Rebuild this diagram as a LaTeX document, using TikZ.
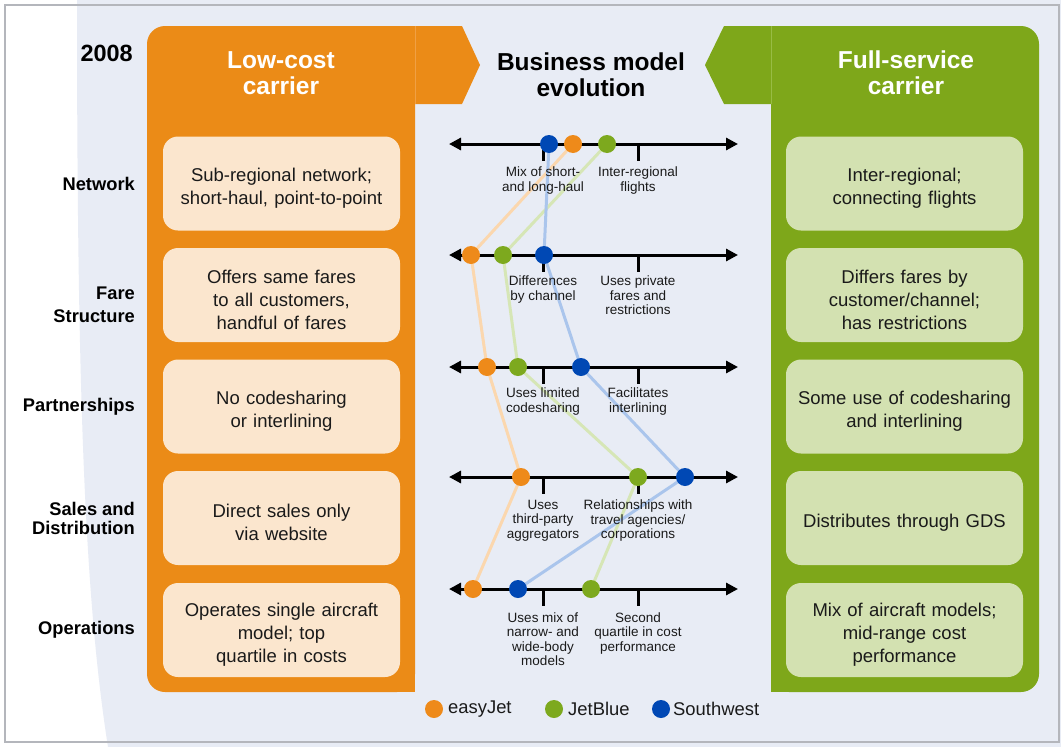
\documentclass[tikz,border=0pt]{standalone}
\usepackage{fontspec}
\setmainfont{Liberation Sans}
\usetikzlibrary{arrows.meta}
\definecolor{bgblue}{HTML}{E8ECF5}
\definecolor{lcorange}{HTML}{EB8B17}
\definecolor{lcsep}{HTML}{F0A044}
\definecolor{lcboxc}{HTML}{FBE6CE}
\definecolor{fsgreen}{HTML}{7EA71A}
\definecolor{fssep}{HTML}{98BC44}
\definecolor{fsboxc}{HTML}{D3E1B1}
\definecolor{dotorange}{HTML}{EE8A1A}
\definecolor{dotgreen}{HTML}{7DA91E}
\definecolor{dotblue}{HTML}{0048B4}
\definecolor{lnorange}{HTML}{FBD7AE}
\definecolor{lngreen}{HTML}{D6E6B6}
\definecolor{lnblue}{HTML}{AAC5EC}
\definecolor{framec}{HTML}{B4B6BC}
\definecolor{txt}{HTML}{1A1A1A}
\tikzset{
  infobox/.style={rounded corners=15pt, minimum width=237pt, minimum height=94pt,
    text width=235pt, align=center, text=txt, inner sep=0pt,
    font={\fontsize{18.5}{23}\selectfont},
    execute at begin node={\rule{0pt}{22.5pt}}},
  lcbox/.style={infobox, fill=lcboxc},
  fsbox/.style={infobox, fill=fsboxc},
  rowlabel/.style={anchor=east, align=right, font={\bfseries\fontsize{18.3}{23}\selectfont}, inner sep=0pt},
  title/.style={align=center, font={\bfseries\fontsize{24.5}{26}\selectfont}, inner sep=0pt},
  axis/.style={line width=3pt, {Triangle[length=12pt,width=12pt]}-{Triangle[length=12pt,width=12pt]}},
  tick/.style={line width=3pt},
  ticklabel/.style={anchor=north, align=center, text=txt, inner sep=0pt,
    font={\fontsize{13.5}{14.5}\selectfont}},
  dot/.style={circle, minimum size=18pt, inner sep=0pt},
  edot/.style={dot, fill=dotorange},
  gdot/.style={dot, fill=dotgreen},
  bdot/.style={dot, fill=dotblue},
  trail/.style={line width=3pt},
  legtext/.style={anchor=west, inner sep=0pt, text=txt, font={\fontsize{18.4}{20}\selectfont}}
}
\begin{document}
\begin{tikzpicture}[x=1pt,y=-1pt]
\useasboundingbox (0,0) rectangle (1061,747);
\fill[white] (0,0) rectangle (1061,747);
\fill[bgblue] (77,0) .. controls (77,400) and (85,600) .. (108,747) -- (1061,747) -- (1061,0) -- cycle;
\draw[framec, line width=1.5pt] (5,5) rectangle (1059,742);

% low-cost panel
\fill[lcorange, rounded corners=18pt] (147,26) rectangle (415,692);
\fill[lcorange] (300,26) rectangle (415,692);
\fill[lcorange] (415,26) -- (462,26) -- (480,65) -- (462,104) -- (415,104) -- cycle;
\draw[lcsep, line width=0.8pt] (415,26) -- (415,104);
% full-service panel
\fill[fsgreen, rounded corners=18pt] (771,26) rectangle (1039,692);
\fill[fsgreen] (771,26) rectangle (900,692);
\fill[fsgreen] (771,26) -- (724,26) -- (705,65) -- (724,104) -- (771,104) -- cycle;
\draw[fssep, line width=0.8pt] (771,26) -- (771,104);

% titles
\node[title, text=white] (tlc) at (281,73) {Low-cost\\carrier};
\node[title, text=black] (tbm) at (591,75) {Business model\\evolution};
\node[title, text=white] (tfs) at (906,73) {Full-service\\carrier};
\node[anchor=east, inner sep=0pt, font={\bfseries\fontsize{23.5}{25}\selectfont}] (year) at (133,53) {2008};

% row labels
\node[rowlabel] (r1) at (135,184) {Network};
\node[rowlabel] (r2) at (135,305) {Fare\\Structure};
\node[rowlabel] (r3) at (135,407) {Partnerships};
\node[rowlabel, font={\bfseries\fontsize{18.3}{19}\selectfont}] (r4) at (135,518) {Sales and\\Distribution};
\node[rowlabel] (r5) at (135,630) {Operations};

% low-cost boxes
\node[lcbox] (lc1) at (281.5,183.5) {Sub-regional network;\\short-haul, point-to-point};
\node[lcbox] (lc2) at (281.5,295) {Offers same fares\\to all customers,\\handful of fares};
\node[lcbox] (lc3) at (281.5,406.5) {No codesharing\\or interlining};
\node[lcbox] (lc4) at (281.5,518) {Direct sales only\\via website};
\node[lcbox] (lc5) at (281.5,630) {Operates single aircraft\\model; top\\quartile in costs};
% full-service boxes
\node[fsbox] (fs1) at (904.5,183.5) {Inter-regional;\\connecting flights};
\node[fsbox] (fs2) at (904.5,295) {Differs fares by\\customer/channel;\\has restrictions};
\node[fsbox] (fs3) at (904.5,406.5) {Some use of codesharing\\and interlining};
\node[fsbox] (fs4) at (904.5,518) {Distributes through GDS};
\node[fsbox] (fs5) at (904.5,630) {Mix of aircraft models;\\mid-range cost\\performance};

% dot positions
\coordinate (pe1) at (573,144); \coordinate (pg1) at (607,144); \coordinate (pb1) at (549,144);
\coordinate (pe2) at (471,255); \coordinate (pg2) at (503,255); \coordinate (pb2) at (544,255);
\coordinate (pe3) at (487,367); \coordinate (pg3) at (518,367); \coordinate (pb3) at (581,367);
\coordinate (pe4) at (521,477); \coordinate (pg4) at (638,477); \coordinate (pb4) at (685,477);
\coordinate (pe5) at (473,589); \coordinate (pg5) at (591,589); \coordinate (pb5) at (518,589);

% trails
\draw[trail, lnorange] (pe1) -- (pe2) -- (pe3) -- (pe4) -- (pe5);
\draw[trail, lngreen] (pg1) -- (pg2) -- (pg3) -- (pg4) -- (pg5);
\draw[trail, lnblue] (pb1) -- (pb2) -- (pb3) -- (pb4) -- (pb5);

% axes and ticks
\foreach \i/\y in {1/144,2/255,3/367,4/477,5/589}{
  \coordinate (al\i) at (449,\y);
  \coordinate (ar\i) at (738,\y);
  \coordinate (ta\i) at (543,\y);
  \coordinate (tb\i) at (638,\y);
  \coordinate (tae\i) at (543,\y+17);
  \coordinate (tbe\i) at (638,\y+17);
  \draw[axis] (al\i) -- (ar\i);
  \draw[tick] (ta\i) -- (tae\i);
  \draw[tick] (tb\i) -- (tbe\i);
}

% tick labels
\node[ticklabel] (la1) at (543,167) {Mix of short-\\and long-haul};
\node[ticklabel] (lb1) at (638,167) {Inter-regional\\flights};
\node[ticklabel] (la2) at (543,276) {Differences\\by channel};
\node[ticklabel] (lb2) at (638,276) {Uses private\\fares and\\restrictions};
\node[ticklabel] (la3) at (543,388) {Uses limited\\codesharing};
\node[ticklabel] (lb3) at (638,388) {Facilitates\\interlining};
\node[ticklabel] (la4) at (543,500) {Uses\\third-party\\aggregators};
\node[ticklabel] (lb4) at (638,500) {Relationships with\\travel agencies/\\corporations};
\node[ticklabel] (la5) at (543,612.5) {Uses mix of\\narrow- and\\wide-body\\models};
\node[ticklabel] (lb5) at (638,612.5) {Second\\quartile in cost\\performance};

% dots
\foreach \i in {1,...,5}{
  \node[edot] (e\i) at (pe\i) {};
  \node[gdot] (g\i) at (pg\i) {};
  \node[bdot] (b\i) at (pb\i) {};
}

% legend
\node[edot] (le) at (434,709) {};
\node[legtext] (lte) at (448,709) {easyJet};
\node[gdot] (lg) at (554,709) {};
\node[legtext] (ltg) at (568,709) {JetBlue};
\node[bdot] (lb) at (661,709) {};
\node[legtext] (ltb) at (673,709) {Southwest};
\end{tikzpicture}
\end{document}
